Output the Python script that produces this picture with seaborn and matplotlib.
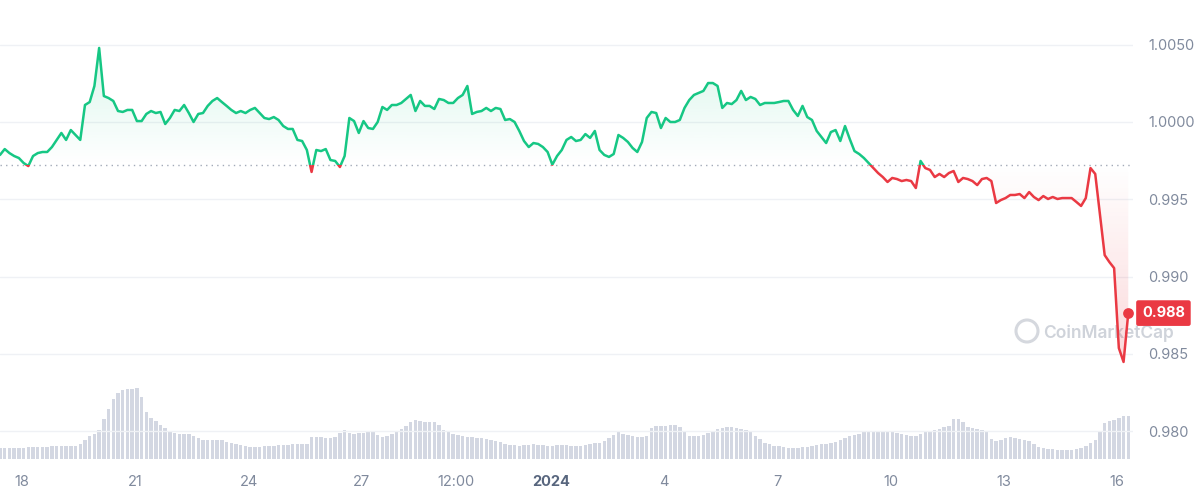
import matplotlib.pyplot as plt
import matplotlib.dates as mdates
import numpy as np
import pandas as pd
import seaborn as sns
from matplotlib.colors import to_rgb
from matplotlib.patches import Ellipse, Rectangle


# ===== DATA =====
start = "2023-12-17 10:00"
step = "3h"

# price, one value every 3 hours
price = [
    0.99787, 0.99825, 0.99799, 0.99780, 0.99767, 0.99735, 0.99715, 0.99780, 0.99799, 0.99806,
    0.99806, 0.99838, 0.99884, 0.99929, 0.99884, 0.99948, 0.99916, 0.99884, 1.00110, 1.00129,
    1.00233, 1.00479, 1.00168, 1.00155, 1.00136, 1.00071, 1.00065, 1.00078, 1.00078, 1.00006,
    1.00006, 1.00052, 1.00071, 1.00058, 1.00065, 0.99987, 1.00026, 1.00078, 1.00071, 1.00110,
    1.00058, 1.00000, 1.00052, 1.00058, 1.00104, 1.00136, 1.00155, 1.00129, 1.00104, 1.00078,
    1.00058, 1.00071, 1.00058, 1.00078, 1.00091, 1.00058, 1.00026, 1.00019, 1.00032, 1.00013,
    0.99974, 0.99955, 0.99955, 0.99884, 0.99877, 0.99819, 0.99677, 0.99819, 0.99812, 0.99825,
    0.99754, 0.99748, 0.99709, 0.99780, 1.00026, 1.00006, 0.99929, 1.00006, 0.99961, 0.99955,
    1.00000, 1.00097, 1.00078, 1.00110, 1.00110, 1.00123, 1.00149, 1.00175, 1.00071, 1.00136,
    1.00104, 1.00104, 1.00084, 1.00149, 1.00142, 1.00123, 1.00123, 1.00155, 1.00175, 1.00233,
    1.00052, 1.00065, 1.00071, 1.00091, 1.00071, 1.00091, 1.00084, 1.00013, 1.00019, 1.00000,
    0.99942, 0.99877, 0.99838, 0.99864, 0.99858, 0.99838, 0.99806, 0.99724, 0.99780, 0.99819,
    0.99884, 0.99903, 0.99877, 0.99884, 0.99922, 0.99897, 0.99942, 0.99819, 0.99787, 0.99774,
    0.99793, 0.99916, 0.99897, 0.99871, 0.99832, 0.99806, 0.99871, 1.00026, 1.00065, 1.00058,
    0.99961, 1.00026, 1.00000, 1.00000, 1.00013, 1.00091, 1.00142, 1.00175, 1.00188, 1.00201,
    1.00252, 1.00252, 1.00233, 1.00091, 1.00123, 1.00116, 1.00142, 1.00201, 1.00142, 1.00162,
    1.00149, 1.00110, 1.00123, 1.00123, 1.00123, 1.00129, 1.00136, 1.00136, 1.00078, 1.00039,
    1.00104, 1.00032, 1.00013, 0.99942, 0.99903, 0.99864, 0.99935, 0.99948, 0.99877, 0.99974,
    0.99890, 0.99812, 0.99793, 0.99767, 0.99735, 0.99702, 0.99670, 0.99644, 0.99612, 0.99638,
    0.99631, 0.99618, 0.99625, 0.99618, 0.99573, 0.99748, 0.99702, 0.99690, 0.99644, 0.99664,
    0.99644, 0.99670, 0.99683, 0.99612, 0.99638, 0.99631, 0.99618, 0.99592, 0.99631, 0.99638,
    0.99618, 0.99476, 0.99495, 0.99508, 0.99528, 0.99528, 0.99534, 0.99508, 0.99547, 0.99515,
    0.99495, 0.99521, 0.99502, 0.99515, 0.99502, 0.99508, 0.99508, 0.99508, 0.99483, 0.99457,
    0.99508, 0.99702, 0.99664, 0.99399, 0.99139, 0.99094, 0.99055, 0.98538, 0.98448, 0.98764,
]

# volume, relative bar heights on the same 3 hour grid
volume = [
    11, 11, 11, 11, 11, 11, 12, 12, 12, 12,
    12, 13, 13, 13, 13, 13, 13, 15, 19, 23,
    25, 29, 40, 50, 60, 66, 69, 70, 70, 71,
    62, 47, 41, 38, 34, 31, 28, 26, 25, 25,
    25, 23, 21, 19, 19, 19, 19, 19, 17, 16,
    15, 14, 13, 12, 12, 12, 13, 13, 13, 14,
    14, 14, 15, 15, 15, 15, 22, 22, 22, 21,
    21, 22, 26, 29, 26, 25, 26, 26, 27, 27,
    24, 22, 23, 25, 27, 30, 33, 37, 39, 38,
    37, 37, 37, 34, 29, 27, 25, 24, 23, 22,
    22, 21, 21, 20, 19, 18, 17, 15, 14, 14,
    13, 14, 14, 15, 14, 14, 13, 13, 14, 14,
    14, 13, 13, 13, 14, 15, 16, 16, 18, 21,
    24, 27, 25, 24, 23, 22, 22, 23, 31, 33,
    33, 33, 34, 34, 32, 28, 23, 23, 23, 24,
    26, 28, 30, 31, 32, 32, 31, 30, 29, 27,
    23, 20, 16, 15, 13, 13, 12, 11, 11, 11,
    12, 12, 13, 14, 15, 15, 16, 17, 19, 21,
    23, 24, 25, 27, 27, 28, 28, 28, 27, 27,
    26, 25, 24, 23, 23, 25, 27, 28, 29, 30,
    32, 33, 40, 40, 37, 32, 31, 30, 29, 27,
    20, 18, 19, 21, 22, 21, 20, 19, 18, 15,
    12, 11, 10, 10, 9, 9, 9, 9, 10, 11,
    13, 16, 19, 28, 36, 38, 39, 41, 43, 43,
]

baseline = 0.99722
last_label = "0.988"

tick_dates = [
    "2023-12-18 00:00", "2023-12-21 00:00", "2023-12-24 00:00", "2023-12-27 00:00",
    "2023-12-29 12:00", "2024-01-01 00:00", "2024-01-04 00:00", "2024-01-07 00:00",
    "2024-01-10 00:00", "2024-01-13 00:00", "2024-01-16 00:00",
]
tick_labels = ["18", "21", "24", "27", "12:00", "2024", "4", "7", "10", "13", "16"]

ytick_values = [0.980, 0.985, 0.990, 0.995, 1.0000, 1.0050]
ytick_labels = ["0.980", "0.985", "0.990", "0.995", "1.0000", "1.0050"]

GREEN = "#16c784"
RED = "#ea3943"
GREY = "#808a9d"

# ===== PLOT =====
sns.set_theme(style="white")
plt.rcParams["font.family"] = ["Inter", "DejaVu Sans"]

df = pd.DataFrame({
    "time": pd.date_range(start, periods=len(price), freq=step),
    "price": price,
    "volume": volume,
})
t0 = df["time"].iloc[0]
t1 = t0 + pd.Timedelta(hours=720)
xn0, xn1 = mdates.date2num(t0), mdates.date2num(t1)

fig = plt.figure(figsize=(12, 4.91), dpi=100)
pos = [0, 26 / 491, 1133 / 1200, 455 / 491]
axv = fig.add_axes(pos, zorder=0)
ax = fig.add_axes(pos, zorder=1, sharex=axv)
ax.patch.set_visible(False)

# volume bars
axv.bar(df["time"], df["volume"], width=2.2 / 24, color="#d3d7e2", linewidth=0)
axv.set_ylim(-6.5, 448.5)
axv.axis("off")

# watermark (under everything else)
fig.add_artist(Ellipse((1027 / 1200, 1 - 331 / 491), 22 / 1200, 22 / 491,
                       transform=fig.transFigure, fill=False, ec="#d5d8de", lw=2.2, zorder=0.5))
fig.text(1043 / 1200, 1 - 333 / 491, "CoinMarketCap", fontsize=12.5, color="#cfd3da",
         fontweight="semibold", va="center", ha="left", zorder=0.5)

# price line, green above the open price and red below it
sns.lineplot(data=df, x="time", y="price", ax=ax, color=GREEN, linewidth=1.8, zorder=4)
sns.lineplot(data=df, x="time", y="price", ax=ax, color=RED, linewidth=1.8, zorder=4)
green_line, red_line = ax.lines[-2], ax.lines[-1]
green_line.set_clip_path(Rectangle((xn0 - 1, baseline), xn1 - xn0 + 2, 1, transform=ax.transData))
red_line.set_clip_path(Rectangle((xn0 - 1, baseline - 1), xn1 - xn0 + 2, 1, transform=ax.transData))

# gradient areas between line and open price
poly = ax.fill_between(df["time"], df["price"], baseline, color="none", linewidth=0)
clip = poly.get_paths()[0]

g = np.zeros((256, 1, 4))
g[..., :3] = to_rgb(GREEN)
g[:, 0, 3] = np.linspace(0.0, 0.16, 256)
im = ax.imshow(g, extent=[xn0, xn1, baseline, 1.0050], origin="lower", aspect="auto", zorder=1)
im.set_clip_path(clip, transform=ax.transData)

r = np.zeros((256, 1, 4))
r[..., :3] = to_rgb(RED)
r[:, 0, 3] = np.linspace(0.2, 0.0, 256)
im2 = ax.imshow(r, extent=[xn0, xn1, 0.9840, baseline], origin="lower", aspect="auto", zorder=1)
im2.set_clip_path(clip, transform=ax.transData)

# dotted open price line
ax.axhline(baseline, color="#a3aab8", linestyle=(0, (1, 3)), linewidth=1, zorder=2)

# last price marker and label
sns.scatterplot(data=df.tail(1), x="time", y="price", ax=ax, color=RED, s=60, linewidth=0, zorder=5)
ax.annotate(
    last_label,
    xy=(1, df["price"].iloc[-1]),
    xycoords=("axes fraction", "data"),
    xytext=(9, 0),
    textcoords="offset pixels",
    ha="left",
    va="center",
    color="white",
    fontsize=10.5,
    fontweight="bold",
    bbox=dict(boxstyle="round,pad=0.4,rounding_size=0.15", fc=RED, ec="none"),
    annotation_clip=False,
    zorder=6,
)

ax.set_xlim(t0, t1)
ax.set_ylim(0.977815, 1.007244)

# axes styling
ax.yaxis.tick_right()
ax.set_yticks(ytick_values)
ax.set_yticklabels(ytick_labels)
ax.set_xticks(pd.to_datetime(tick_dates, format="%Y-%m-%d %H:%M"))
ax.set_xticklabels(tick_labels)
ax.tick_params(axis="y", length=0, pad=11, labelcolor=GREY, labelsize=10.5)
ax.tick_params(axis="x", length=0, pad=7, labelcolor=GREY, labelsize=10.5)
ax.get_xticklabels()[5].set_fontweight("bold")
ax.get_xticklabels()[5].set_color("#58667e")
ax.grid(axis="y", color="#eff1f5", linewidth=1)
ax.grid(axis="x", visible=False)
ax.set_axisbelow(True)
ax.set(xlabel="", ylabel="")
sns.despine(ax=ax, left=True, bottom=True, right=True, top=True)

fig.savefig("out.png", dpi=100)
